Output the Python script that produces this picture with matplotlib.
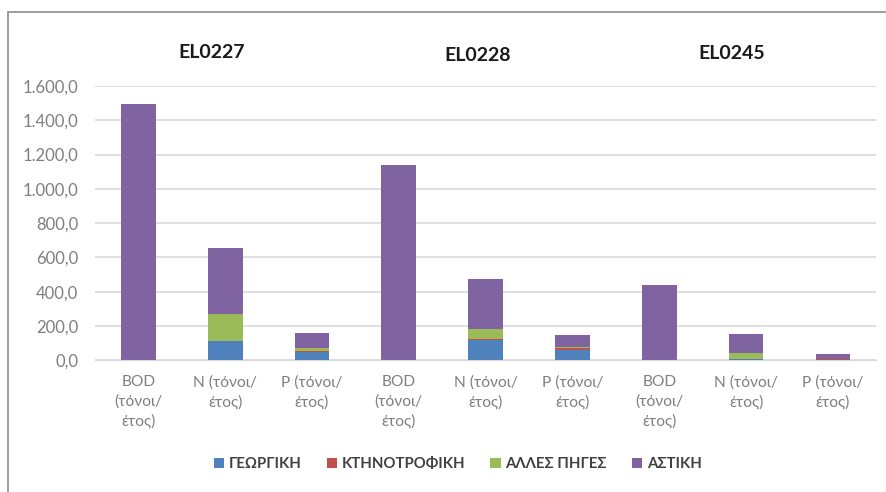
import matplotlib

matplotlib.use("Agg")
import matplotlib.pyplot as plt
import numpy as np
from matplotlib.patches import Rectangle
from matplotlib.ticker import FuncFormatter

plt.rcParams["font.family"] = ["Lato", "DejaVu Sans"]

# --- data ---
categories = [
    "BOD\n(τόνοι/\nέτος)", "N (τόνοι/\nέτος)", "P (τόνοι/\nέτος)",
    "BOD\n(τόνοι/\nέτος)", "N (τόνοι/\nέτος)", "P (τόνοι/\nέτος)",
    "BOD\n(τόνοι/\nέτος)", "N (τόνοι/\nέτος)", "P (τόνοι/\nέτος)",
]
groups = ["EL0227", "EL0228", "EL0245"]
series_names = ["ΓΕΩΡΓΙΚΗ", "ΚΤΗΝΟΤΡΟΦΙΚΗ", "ΑΛΛΕΣ ΠΗΓΕΣ", "ΑΣΤΙΚΗ"]
georgiki = [0, 110, 50, 0, 120, 58, 0, 5, 3]
ktinotrofiki = [0, 2, 3, 0, 3, 10, 0, 1, 1]
alles = [0, 160, 15, 0, 60, 10, 0, 35, 2]
astiki = [1495, 380, 92, 1140, 292, 67, 440, 109, 30]
colors = ["#4F81BD", "#C0504D", "#9BBB59", "#8064A2"]

fig = plt.figure(figsize=(8.87, 4.92), dpi=100)
ax = fig.add_axes([0.107, 0.268, 0.881, 0.557])

x = np.arange(len(categories))
bottom = np.zeros(len(categories))
for name, vals, col in zip(series_names, [georgiki, ktinotrofiki, alles, astiki], colors):
    ax.bar(x, vals, 0.4, bottom=bottom, color=col, label=name, zorder=3)
    bottom += np.array(vals)

ax.set_xlim(-0.5, len(categories) - 0.5)
ax.set_ylim(0, 1600)
ax.set_yticks(np.arange(0, 1601, 200))
ax.yaxis.set_major_formatter(FuncFormatter(
    lambda v, _: f"{v:,.1f}".replace(",", "X").replace(".", ",").replace("X", ".")))
ax.set_xticks(x)
ax.set_xticklabels(categories, linespacing=1.45, fontsize=11.2)
ax.tick_params(axis="both", length=0, colors="#7F7F7F")
ax.tick_params(axis="y", labelsize=12, pad=12)
ax.tick_params(axis="x", pad=11)
ax.yaxis.grid(True, color="#D9D9D9", linewidth=1.2)
ax.set_axisbelow(True)
for s in ["top", "right", "left"]:
    ax.spines[s].set_visible(False)
ax.spines["bottom"].set_color("#D9D9D9")

# group titles
for gx, gy, g in zip([0.239, 0.539, 0.825], [0.894, 0.888, 0.892], groups):
    fig.text(gx, gy, g, ha="center", va="center", fontsize=14,
             fontweight="bold", color="#1A1A1A")

fig.legend(loc="center", bbox_to_anchor=(0.516, 0.057), ncol=4, frameon=False,
           handlelength=0.7, handleheight=0.7, handletextpad=0.3,
           columnspacing=1.7, labelcolor="#404040",
           prop={"weight": "bold", "size": 10.7})

# outer chart border
fig.add_artist(Rectangle((8 / 887, -0.1), 1.2, 1 - 12 / 492 + 0.1,
                         transform=fig.transFigure, fill=False,
                         edgecolor="#8C8C8C", linewidth=1.2))

fig.savefig("out.png", dpi=100, facecolor="white")
